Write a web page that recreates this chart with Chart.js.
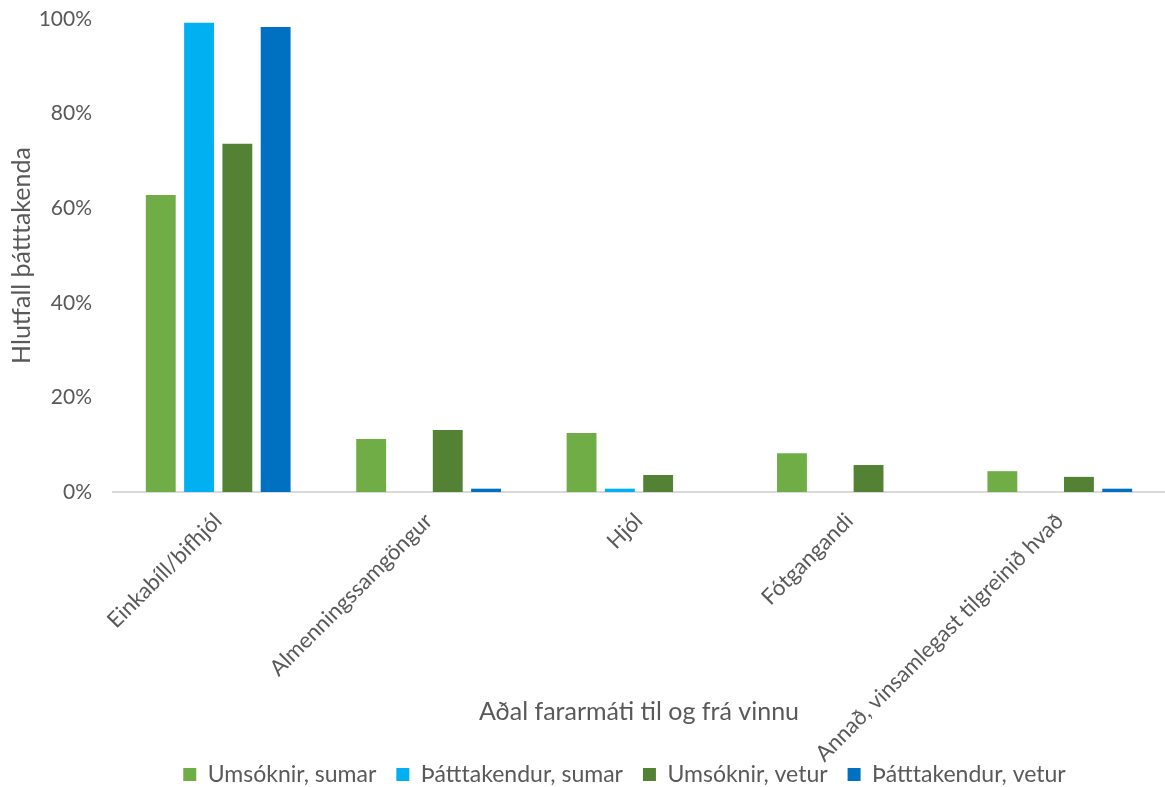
<!DOCTYPE html>
<html>
<head>
<meta charset="utf-8">
<script src="https://cdn.jsdelivr.net/npm/chart.js@4"></script>
<style>
  html, body { margin: 0; padding: 0; background: #fff; }
  #wrap { width: 1165px; height: 787px; }
</style>
</head>
<body>
<div id="wrap"><canvas id="graph1"></canvas></div>
<script>
// categories
const xvalues = ["Einkabíll/bifhjól", "Almenningssamgöngur", "Hjól", "Fótgangandi", "Annað, vinsamlegast tilgreinið hvað"];

// series values (%)
const umsoknir_sumar = [62.8, 11.2, 12.5, 8.2, 4.4];
const thatttakendur_sumar = [99.2, 0, 0.7, 0, 0];
const umsoknir_vetur = [73.6, 13.1, 3.6, 5.7, 3.2];
const thatttakendur_vetur = [98.3, 0.7, 0, 0, 0.7];

const series_names = ["Umsóknir, sumar", "Þátttakendur, sumar", "Umsóknir, vetur", "Þátttakendur, vetur"];
const bg_colors = ["#70AD47", "#00B0F0", "#548235", "#0070C0"];

const yticks_max = 100;
const yticks_step = 20;

const txt = "#595959";
const fnt = "Lato";

// let the long x labels run down past the legend, like in excel, and nudge the legend
const overlapBottom = {
  id: "overlapBottom",
  afterLayout(chart) {
    chart.scales.x.bottom = chart.height;
    const lg = chart.legend;
    lg.top += 9; lg.bottom += 9;
    lg.left += 42; lg.right += 42;
  }
};

const ctx = document.getElementById("graph1");

new Chart(ctx, {
  type: "bar",
  data: {
    labels: xvalues,
    datasets: [umsoknir_sumar, thatttakendur_sumar, umsoknir_vetur, thatttakendur_vetur].map(function(vals, i) {
      return {
        label: series_names[i],
        data: vals,
        backgroundColor: bg_colors[i],
        categoryPercentage: 0.728,
        barPercentage: 0.78
      };
    })
  },
  plugins: [overlapBottom],
  options: {
    responsive: true,
    maintainAspectRatio: false,
    animation: false,
    layout: { padding: { top: 19, right: 0, left: 0, bottom: 0 } },
    plugins: {
      legend: {
        position: "bottom",
        labels: {
          boxWidth: 13,
          boxHeight: 13,
          padding: 20,
          color: txt,
          font: { family: fnt, size: 23 }
        }
      },
      tooltip: { enabled: false }
    },
    scales: {
      x: {
        grid: { display: false, drawTicks: false },
        border: { display: true, color: "#D9D9D9", width: 2 },
        ticks: {
          color: txt,
          font: { family: fnt, size: 22 },
          minRotation: 45,
          maxRotation: 45,
          autoSkip: false,
          padding: 16
        },
        title: {
          display: true,
          text: "Aðal fararmáti til og frá vinnu",
          color: txt,
          font: { family: fnt, size: 25 },
          padding: { top: 4, bottom: 60 }
        },
        afterFit: function(scale) { scale.height = 242; }
      },
      y: {
        min: 0,
        max: yticks_max,
        grid: { display: false, drawTicks: false },
        border: { display: false },
        ticks: {
          stepSize: yticks_step,
          color: txt,
          font: { family: fnt, size: 21 },
          padding: 21,
          callback: function(v) { return v + "%"; }
        },
        title: {
          display: true,
          text: "Hlutfall þátttakenda",
          color: txt,
          font: { family: fnt, size: 25 },
          padding: { top: 7, bottom: 4 }
        },
        afterFit: function(scale) {
          scale.width = 113;
          scale.paddingTop = 13;
          scale.paddingBottom = 13;
        }
      }
    }
  }
});
</script>
</body>
</html>
